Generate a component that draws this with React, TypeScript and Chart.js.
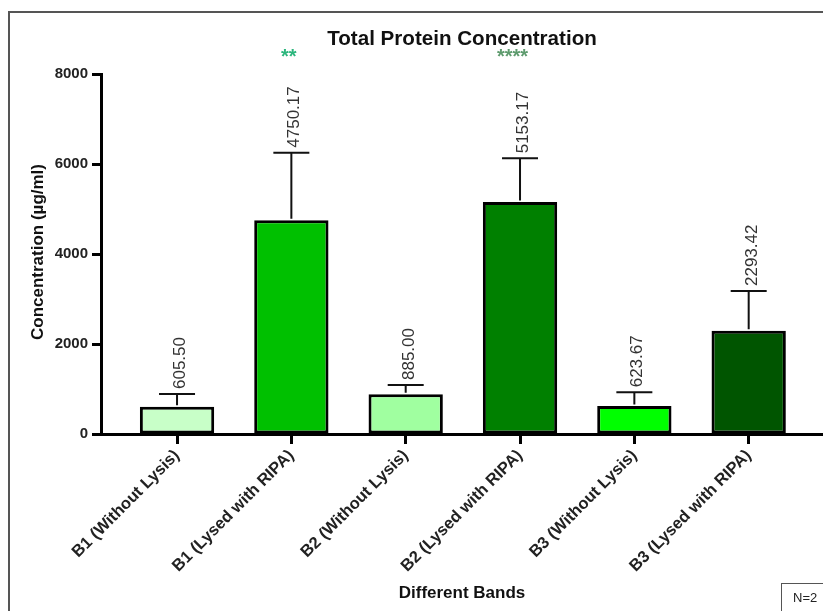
import React, { useEffect, useRef } from 'react';
import { Chart, registerables } from 'chart.js';

Chart.register(...registerables);

const categories = [
  'B1 (Without Lysis)',
  'B1 (Lysed with RIPA)',
  'B2 (Without Lysis)',
  'B2 (Lysed with RIPA)',
  'B3 (Without Lysis)',
  'B3 (Lysed with RIPA)',
];
const means = [605.5, 4750.17, 885.0, 5153.17, 623.67, 2293.42];
const sdUpper = [283, 1501, 204, 973, 303, 884];
const barColors = ['#c8ffc8', '#00c000', '#a0ffa0', '#008000', '#00ff00', '#005500'];
const significance = ['', '**', '', '****', '', ''];
const starColors = ['', '#2cb67d', '', '#5e9b6e', '', ''];
const yTickValues = [0, 2000, 4000, 6000, 8000];

const FONT = 'Arial, "Liberation Sans", Helvetica, sans-serif';

const overlay = {
  id: 'overlay',
  afterDatasetsDraw(chart: any) {
    const ctx = chart.ctx as CanvasRenderingContext2D;
    const meta = chart.getDatasetMeta(0);
    const ys = chart.scales.y;
    ctx.save();
    meta.data.forEach((bar: any, i: number) => {
      const x = bar.x;
      const top = ys.getPixelForValue(means[i]);
      const capY = ys.getPixelForValue(means[i] + sdUpper[i]);
      ctx.strokeStyle = '#111';
      ctx.lineWidth = 2;
      ctx.beginPath();
      ctx.moveTo(x, top - 1.5);
      ctx.lineTo(x, capY);
      ctx.moveTo(x - 18, capY);
      ctx.lineTo(x + 18, capY);
      ctx.stroke();

      ctx.save();
      ctx.translate(x + 8, capY - 5);
      ctx.rotate(-Math.PI / 2);
      ctx.font = `17px ${FONT}`;
      ctx.fillStyle = '#333';
      ctx.textAlign = 'left';
      ctx.textBaseline = 'alphabetic';
      ctx.fillText(means[i].toFixed(2), 0, 0);
      ctx.restore();

      if (significance[i]) {
        const n = significance[i].length;
        ctx.font = `bold 20px ${FONT}`;
        ctx.fillStyle = starColors[i];
        ctx.textAlign = 'center';
        ctx.textBaseline = 'alphabetic';
        ctx.fillText(significance[i], x - (n - 1) * 2.5, 63);
      }
    });
    ctx.restore();
  },
  afterDraw(chart: any) {
    const ctx = chart.ctx as CanvasRenderingContext2D;
    const area = chart.chartArea;
    const cx = (area.left + area.right) / 2;
    ctx.save();
    // frame
    ctx.strokeStyle = '#555';
    ctx.lineWidth = 2;
    ctx.beginPath();
    ctx.moveTo(9, 611);
    ctx.lineTo(9, 12);
    ctx.lineTo(823, 12);
    ctx.stroke();

    // title
    ctx.fillStyle = '#111';
    ctx.font = `bold 20.6px ${FONT}`;
    ctx.textAlign = 'center';
    ctx.textBaseline = 'alphabetic';
    ctx.fillText('Total Protein Concentration', cx, 45);

    // x title
    ctx.font = `bold 17px ${FONT}`;
    ctx.fillText('Different Bands', cx, 598);

    // y title
    ctx.save();
    ctx.translate(43, (area.top + area.bottom) / 2 - 2);
    ctx.rotate(-Math.PI / 2);
    ctx.textAlign = 'center';
    ctx.fillText('Concentration (\u00b5g/ml)', 0, 0);
    ctx.restore();

    // N=2 box
    ctx.strokeStyle = '#555';
    ctx.lineWidth = 1;
    ctx.strokeRect(781.5, 583.5, 60, 40);
    ctx.font = `13px ${FONT}`;
    ctx.fillStyle = '#222';
    ctx.textAlign = 'left';
    ctx.fillText('N=2', 793, 602);
    ctx.restore();
  },
};

export default function App() {
  const canvasRef = useRef<HTMLCanvasElement | null>(null);

  useEffect(() => {
    const canvas = canvasRef.current;
    if (!canvas) return;
    const chart = new Chart(canvas, {
      type: 'bar',
      data: {
        datasets: [
          {
            data: means.map((v, i) => ({ x: i, y: v })) as any,
            backgroundColor: barColors,
            borderColor: '#000',
            borderWidth: 3,
            borderSkipped: false,
            barPercentage: 0.65,
            categoryPercentage: 1,
          },
        ],
      },
      options: {
        responsive: false,
        animation: false,
        devicePixelRatio: 1,
        layout: { padding: { top: 74, left: 0, right: 0, bottom: 0 } },
        plugins: {
          legend: { display: false },
          tooltip: { enabled: false },
          title: { display: false },
        },
        scales: {
          x: {
            type: 'linear',
            offset: false,
            min: -0.665,
            max: 5.65,
            afterBuildTicks: (s: any) => {
              s.ticks = categories.map((_, i) => ({ value: i }));
            },
            afterFit: (s: any) => {
              s.height = 177;
            },
            grid: {
              display: true,
              offset: false,
              drawOnChartArea: false,
              drawTicks: true,
              tickLength: 10,
              tickWidth: 3,
              tickColor: '#000',
            },
            border: { display: true, color: '#000', width: 3 },
            ticks: {
              autoSkip: false,
              minRotation: 45,
              maxRotation: 45,
              padding: 2,
              color: '#222',
              font: { family: FONT, size: 16.5, weight: 'bold' },
              callback: (v: any) => categories[v as number] ?? '',
            },
          },
          y: {
            min: 0,
            max: 8000,
            afterBuildTicks: (s: any) => {
              s.ticks = yTickValues.map((v) => ({ value: v }));
            },
            afterFit: (s: any) => {
              s.width = 101;
            },
            grid: {
              display: true,
              drawOnChartArea: false,
              drawTicks: true,
              tickLength: 9,
              tickWidth: 3,
              tickColor: '#000',
            },
            border: { display: true, color: '#000', width: 3 },
            ticks: {
              padding: 4,
              color: '#222',
              font: { family: FONT, size: 15, weight: 'bold' },
              callback: (v: any) => String(v),
            },
          },
        },
      } as any,
      plugins: [overlay],
    });
    return () => chart.destroy();
  }, []);

  return (
    <div style={{ position: 'absolute', left: 0, top: 0, width: 823, height: 611, background: '#fff' }}>
      <canvas ref={canvasRef} width={823} height={611} style={{ display: 'block', width: 823, height: 611 }} />
    </div>
  );
}
